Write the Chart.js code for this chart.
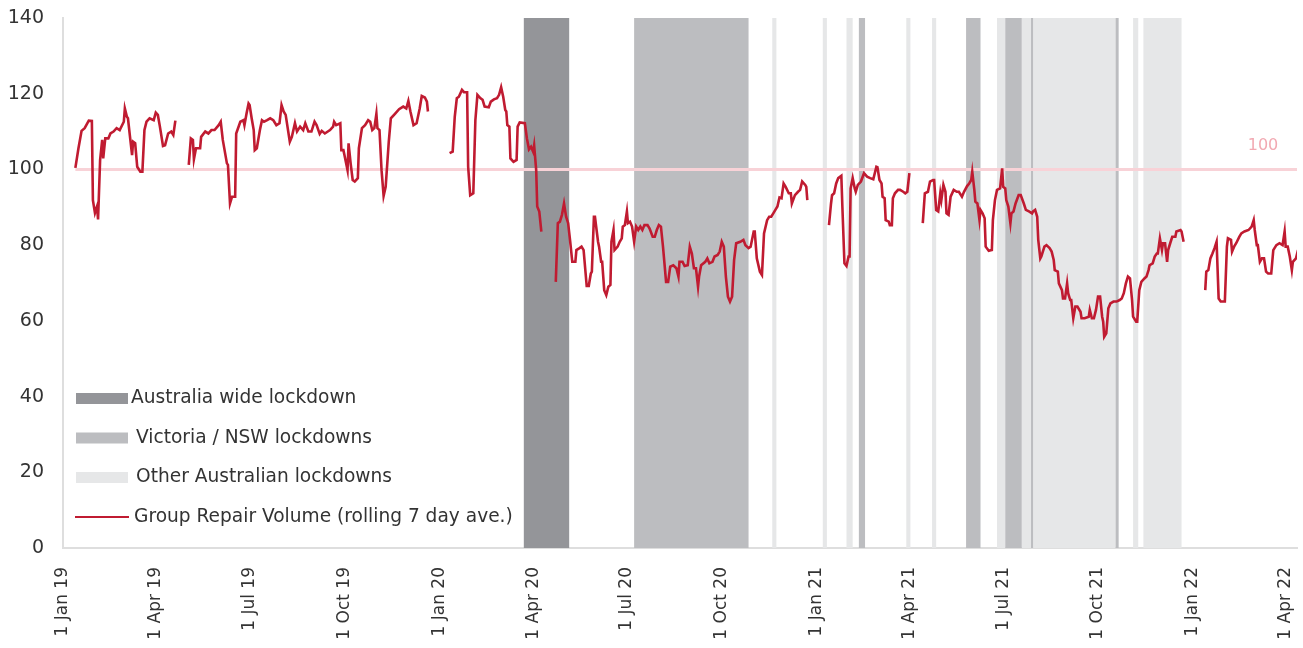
<!DOCTYPE html>
<html>
<head>
<meta charset="utf-8">
<script src="https://cdn.jsdelivr.net/npm/chart.js@4.4.1/dist/chart.umd.min.js"></script>
<style>
  html, body { margin: 0; padding: 0; background: #ffffff; }
  #wrap { width: 1303px; height: 648px; position: relative; }
</style>
</head>
<body>
<div id="wrap"><canvas id="c" width="1303" height="648"></canvas></div>
<script>
// ---------- DATA (x = days since 1 Jan 2019) ----------
const tickDates  = ['2019-01-01','2019-04-01','2019-07-01','2019-10-01','2020-01-01','2020-04-01','2020-07-01','2020-10-01','2021-01-01','2021-04-01','2021-07-01','2021-10-01','2022-01-01','2022-04-01'];
const tickLabels = ['1 Jan 19','1 Apr 19','1 Jul 19','1 Oct 19','1 Jan 20','1 Apr 20','1 Jul 20','1 Oct 20','1 Jan 21','1 Apr 21','1 Jul 21','1 Oct 21','1 Jan 22','1 Apr 22'];
const xMaxDay = 1197;
const yTicks = { min: 0, max: 140, step: 20 };
const referenceLevel = 100;

// lockdown periods [startDay, endDay]
const australiaWide = [[447, 491]];
const vicNsw = [[554, 665], [772, 778], [876, 890], [914, 930], [939, 941], [1021, 1024]];
const otherLockdowns = [[688, 692], [737, 741], [760, 766], [818, 822], [843, 847], [906, 914], [930, 939], [941, 1021], [1038, 1043], [1048, 1085]];

// Group Repair Volume (rolling 7 day ave.) - segments separated by gaps
const daysA = [12,15,18,21,25,28,29,31,33,34,36,38,39,41,44,46,49,52,55,59,60,62,63,65,67,68,70,72,75,77,79,81,84,88,90,92,94,97,99,102,105,107,109];
const volA  = [100.4,105.6,110.2,110.9,112.9,112.8,91.9,88.5,90.2,86.8,102.5,107.8,102.9,108.2,108.2,109.5,110,110.9,110.4,112.6,116.1,113.9,113.5,108.6,103.8,107.3,106.9,100.7,99.4,99.4,110.4,112.6,113.5,113,115,114.4,111.3,106.2,106.4,109.5,110,109.1,112.9];

const daysB = [122,124,126,127,129,133,134,138,141,144,147,151,153,155,159,160,162,164,167,168,172,175,176,178,180,181,183,185,186,188,191,193,195,198,201,204,207,210,212,214,216,220,222,225,227,230,233,235,238,241,244,246,249,251,254,259,262,263,265,269,270,272,273,276,277,279,281,283,286,287,290,293,296,298,300,302,304,305,307,309,311,313,316,318,322,326,330,333,335,337,340,343,346,348,351,353,354];
const volB  = [101.2,108.2,107.8,102.7,105.6,105.6,108.6,110,109.5,110.4,110.4,111.7,112.6,107.8,101.6,101.2,91,92.8,92.8,109.5,112.6,113,111.7,114.7,117.4,117,113.5,110.4,105.1,105.6,110.4,113,112.6,113,113.5,113,111.7,112.2,117,115.3,114.4,107.3,108.6,112.2,110,111.3,110.4,112.2,110,110,112.6,111.7,109.4,110.2,109.5,110.4,111.3,112.6,111.7,112.2,105.1,105.1,103.8,99.8,106.9,101.6,97.2,96.8,97.7,105.6,110.9,111.7,113,112.6,110.4,110.9,114.7,110.9,110.4,99.8,93,95.4,107.3,113.5,114.7,115.9,116.6,116.1,118.1,115.3,111.7,112.2,116.1,119.4,119,117.9,115.3];

const daysC = [375,378,380,382,384,387,389,392,393,395,398,400,402,405,407,409,413,415,418,421,423,425,427,429,430,431,433,434,437,440,441,443,448,450,452,454,456,457,459,460,462,464];
const volC  = [104.3,104.7,113.9,118.8,119.2,121,120.4,120.4,100.7,93.2,93.7,113,119.7,118.8,118.4,116.6,116.4,117.9,118.5,118.8,119.7,121.7,119.2,115.7,115.3,111.7,111.3,102.9,102,102.5,111.3,112.4,112.2,108.2,105.3,106,104.7,106.4,99.8,90.2,88.9,83.6];

const daysD = [478,480,482,484,486,488,490,492,494,497,498,501,503,505,508,510,512,513,515,516,519,520,522,523,525,527,529,531,532,534,535,538,540,542,543,545,547,548,550,552,554,556,558,560,562,564,567,569,572,574,576,578,580,582,585,587,589,592,595,597,598,601,603,606,608,610,612,614,616,617,619,623,625,627,630,632,635,637,639,641,643,645,647,649,651,653,657,660,662,665,667,670,671,673,676,678,680,683,685,687,689,691,693,695,697,699,701,704,706,707,710,713,715,717,720,721,722];
const volD  = [70.3,85.8,86.2,88,91,87.5,85.8,80.9,75.6,75.6,78.7,79.2,79.6,78.7,69.2,69.2,72.5,73,87.5,87.5,80.9,79.6,75.6,75.6,68.1,66.8,69,69.5,80.9,84,78.7,79.6,80.9,81.8,84.9,85.3,88.9,85.8,86.2,84.9,80.9,84.9,84,84.9,84,85.3,85.3,84.4,82.2,82.2,84,85.3,84.9,79.6,70.3,70.3,74.3,74.7,73.9,71.7,75.6,75.6,74.5,74.7,79.6,77.8,73.9,73.9,69,71.7,74.7,75.6,76.5,75.2,75.6,77,77.4,78.3,80.9,79.6,71.7,66.4,65.1,66.4,76.1,80.5,80.9,81.4,80,79.2,79.6,83.6,83.6,76.5,73,72.1,83.1,86.6,87.5,87.5,88.4,89.3,90.2,92.6,92.4,96.3,95.4,93.7,93.7,91,93.2,94.1,94.6,96.8,95.9,95.4,91.9];

const daysE = [743,745,746,748,750,752,755,756,758,760,762,763,764,766,768,769,771,774,777,780,783,786,789,790,792,794,795,797,798,801,802,804,805,807,810,812,815,817,819,821];
const volE  = [85.3,91,93.2,93.7,96.3,97.7,98.3,90.2,75.2,74.5,77,77,95,97.7,95,94.1,95.9,96.8,99,98.1,97.7,97.4,100.7,100.6,97.2,96.3,92.8,92.4,86.6,86.2,85.3,85.3,92.4,93.7,94.6,94.6,94.1,93.7,94.1,99];

const daysF = [834,836,839,841,844,845,847,849,851,852,854,856,857,859,861,864,867,869,872,874,877,879,881,882,884,885,887,889,890,892,894,895,898,901,902,904,906,909,911,912,914,915,917,919,920,922,924,927,929,932,934,937,940,941,943,945,946,948,949,952,954,957,959,961,962,965,966,969,970,972,974,975,977,978,980,982,984,987,988,991,995,996,998,1000,1002,1004,1006,1008,1009,1010,1012,1014,1016,1019,1022,1025,1027,1029,1031,1033,1035,1037,1038,1041,1042,1044,1046,1049,1051,1053,1054,1057,1059,1061,1062,1064,1066,1067,1069,1071,1072,1074,1076,1079,1080,1084,1085,1087];
const volF  = [85.8,93.7,94.1,96.8,97.2,97.2,89.3,88.9,93.7,91.9,95.9,94.1,88.4,88,92.8,94.6,94.1,94.1,92.8,94.1,95.6,96.3,97.2,99.4,94.6,91.5,91,86.6,89.3,88.4,87.1,79.6,78.5,78.7,86.6,91.9,94.6,95,100.3,95.4,95,91.9,90.2,85.8,88.4,88.9,91,93.2,93.2,91,89.3,88.9,88.4,88.9,89.3,87.5,81.4,76.5,77,79.6,80,79.2,78.3,76.1,73.4,73,69.9,68.1,65.9,65.9,69.9,67.3,65.5,65.5,60.7,63.8,63.8,62.4,60.7,60.7,61.1,62.9,60.7,60.7,62.9,66.4,66.4,61.1,59.8,55.8,56.7,63.3,64.6,65.1,65.1,65.5,65.9,67.3,69.9,71.7,71.2,65.5,61.1,59.8,59.8,68.1,70.3,71.2,71.7,73.4,74.7,75.2,77,77.8,77.8,81.8,78.7,80.5,80.5,75.6,78.7,80.5,82.2,82.2,83.6,84,83.6,80.9];

const daysG = [1108,1109,1111,1113,1115,1117,1119,1121,1123,1125,1127,1129,1130,1133,1134,1136,1138,1141,1143,1146,1150,1153,1155,1156,1158,1159,1161,1163,1165,1167,1169,1172,1174,1177,1180,1183,1185,1186,1188,1190,1192,1193,1196,1198];
const volG  = [68.1,73,73.4,76.5,77.8,79.2,80.9,65.9,65.1,65.1,65.1,79.6,81.8,81.4,78.3,79.6,80.5,82.2,83.1,83.6,84,84.9,86.6,84,80,80,75.6,76.5,76.5,73,72.5,72.5,78.7,80,80.5,80,83.6,79.6,79.6,77,73.4,75.6,76.5,78.7];

// ---------- STYLE ----------
const FONT = '"DejaVu Sans", sans-serif';
const C_DARK = '#949599', C_MID = '#bcbdc0', C_LIGHT = '#e6e7e8';
const C_RED = '#c01b31', C_PINK = '#f8d2d7', C_PINK_TXT = '#f2a9b2', C_TEXT = '#333333', C_AXIS = '#dedede';

// ---------- BUILD ----------
const dayOf = s => { const [y,m,d] = s.split('-').map(Number); return Math.round((Date.UTC(y,m-1,d) - Date.UTC(2019,0,1)) / 86400000); };
const tickDays = tickDates.map(dayOf);

const segments = [[daysA,volA],[daysB,volB],[daysC,volC],[daysD,volD],[daysE,volE],[daysF,volF],[daysG,volG]];
const seriesPoints = [];
segments.forEach(([ds, vs], si) => {
  ds.forEach((d, i) => seriesPoints.push({ x: d, y: vs[i] }));
  if (si < segments.length - 1) seriesPoints.push({ x: ds[ds.length - 1] + 0.5, y: null });
});
const refPoints = [{ x: daysA[0], y: referenceLevel }, { x: xMaxDay, y: referenceLevel }];

const bandsPlugin = {
  id: 'bands',
  beforeDatasetsDraw(chart) {
    const { ctx, chartArea, scales: { x } } = chart;
    ctx.save();
    ctx.beginPath(); ctx.rect(chartArea.left, chartArea.top, chartArea.right - chartArea.left, chartArea.bottom - chartArea.top); ctx.clip();
    const draw = (list, color) => list.forEach(([a, b]) => {
      const x1 = x.getPixelForValue(a), x2 = x.getPixelForValue(b);
      ctx.fillStyle = color;
      ctx.fillRect(x1, chartArea.top, x2 - x1, chartArea.bottom - chartArea.top);
    });
    draw(otherLockdowns, C_LIGHT);
    draw(vicNsw, C_MID);
    draw(australiaWide, C_DARK);
    ctx.restore();
  },
  afterDatasetsDraw(chart) {
    const { ctx, scales: { x, y } } = chart;
    ctx.save();
    ctx.font = '16px ' + FONT;
    ctx.fillStyle = C_PINK_TXT;
    ctx.textAlign = 'center';
    ctx.textBaseline = 'middle';
    ctx.fillText(String(referenceLevel), x.getPixelForValue(1164), y.getPixelForValue(referenceLevel) - 24);
    ctx.restore();
  },
  afterDraw(chart) {
    const { ctx } = chart;
    const items = [
      { label: 'Australia wide lockdown', kind: 'box', color: C_DARK, cy: 398.5, tx: 131 },
      { label: 'Victoria / NSW lockdowns', kind: 'box', color: C_MID, cy: 438, tx: 136 },
      { label: 'Other Australian lockdowns', kind: 'box', color: C_LIGHT, cy: 477.5, tx: 136 },
      { label: 'Group Repair Volume (rolling 7 day ave.)', kind: 'line', color: C_RED, cy: 517, tx: 134 }
    ];
    ctx.save();
    ctx.font = '18.6px ' + FONT;
    ctx.textBaseline = 'middle';
    ctx.textAlign = 'left';
    items.forEach(it => {
      if (it.kind === 'box') {
        ctx.fillStyle = it.color;
        ctx.fillRect(76, it.cy - 5.5, 52, 11);
      } else {
        ctx.strokeStyle = it.color; ctx.lineWidth = 2;
        ctx.beginPath(); ctx.moveTo(75, it.cy); ctx.lineTo(129, it.cy); ctx.stroke();
      }
      ctx.fillStyle = C_TEXT;
      ctx.fillText(it.label, it.tx, it.cy);
    });
    ctx.restore();
  }
};

new Chart(document.getElementById('c'), {
  type: 'line',
  data: {
    datasets: [
      { label: 'Group Repair Volume (rolling 7 day ave.)', data: seriesPoints, borderColor: C_RED, borderWidth: 2.6, pointRadius: 0, tension: 0, spanGaps: false, order: 0 },
      { label: 'Reference', data: refPoints, borderColor: C_PINK, borderWidth: 3, pointRadius: 0, order: 1 }
    ]
  },
  options: {
    responsive: false,
    animation: false,
    events: [],
    layout: { padding: { top: 18, right: 6, left: 0, bottom: 0 } },
    plugins: { legend: { display: false }, tooltip: { enabled: false } },
    scales: {
      x: {
        type: 'linear', min: 0, max: xMaxDay,
        grid: { display: false, drawTicks: false },
        border: { display: true, color: C_AXIS, width: 2 },
        afterBuildTicks: s => { s.ticks = tickDays.map(v => ({ value: v })); },
        afterFit: s => { s.height = 100; s.paddingLeft = 0; s.paddingRight = 0; },
        ticks: {
          autoSkip: false, minRotation: 90, maxRotation: 90, padding: 19,
          color: C_TEXT, font: { family: FONT, size: 17 },
          callback: (v, i) => tickLabels[i]
        }
      },
      y: {
        min: yTicks.min, max: yTicks.max,
        grid: { display: false, drawTicks: false },
        border: { display: true, color: C_AXIS, width: 2 },
        afterFit: s => { s.width = 63; s.paddingTop = 0; s.paddingBottom = 0; },
        ticks: { stepSize: yTicks.step, padding: 19, color: C_TEXT, font: { family: FONT, size: 19 } }
      }
    }
  },
  plugins: [bandsPlugin]
});
</script>
</body>
</html>
